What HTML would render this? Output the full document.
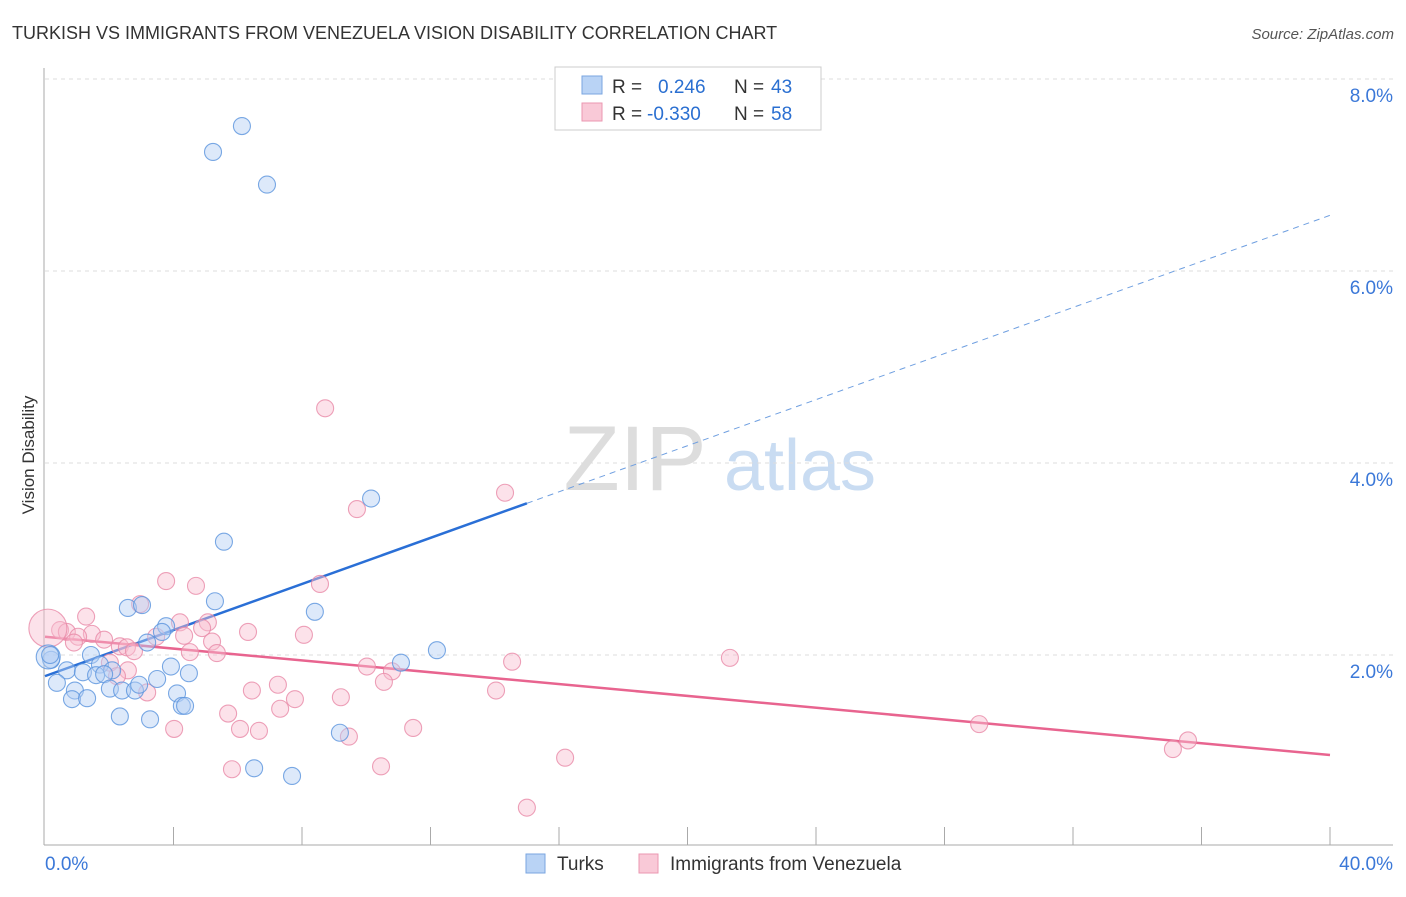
<!DOCTYPE html>
<html><head><meta charset="utf-8"><style>
body{margin:0;background:#fff;font-family:"Liberation Sans",sans-serif;}
svg text{font-family:"Liberation Sans",sans-serif;}
</style></head><body>
<svg id="chart" width="1406" height="892">
<text x="12" y="39" font-size="18" fill="#333">TURKISH VS IMMIGRANTS FROM VENEZUELA VISION DISABILITY CORRELATION CHART</text>
<text x="1394" y="39" font-size="15" fill="#555" font-style="italic" text-anchor="end">Source: ZipAtlas.com</text>
<text x="34" y="455" font-size="17" fill="#333" text-anchor="middle" transform="rotate(-90 34 455)">Vision Disability</text>
<g>
<text x="635" y="490" font-size="92" fill="#ddd" text-anchor="middle" font-family="Liberation Serif,serif">ZIP</text>
<text x="800" y="490" font-size="72" fill="#c9dcf2" text-anchor="middle">atlas</text>
</g>
<g id="grid"></g><g id="axes"></g><g id="lines"></g><g id="pts"></g>
<g>
<rect x="555" y="67" width="266" height="63" fill="#fff" stroke="#ccc"/>
<rect x="582" y="76" width="20" height="18" fill="#b9d3f5" stroke="#7aa6e0"/>
<rect x="582" y="103" width="20" height="18" fill="#f9c9d7" stroke="#eb97b1"/>
<text x="612" y="93" font-size="19" fill="#333">R = </text><text x="658" y="93" font-size="19" fill="#2a6fd1">0.246</text>
<text x="734" y="93" font-size="19" fill="#333">N = </text><text x="771" y="93" font-size="19" fill="#2a6fd1">43</text>
<text x="612" y="120" font-size="19" fill="#333">R = </text><text x="647" y="120" font-size="19" fill="#2a6fd1">-0.330</text>
<text x="734" y="120" font-size="19" fill="#333">N = </text><text x="771" y="120" font-size="19" fill="#2a6fd1">58</text>
</g>
<g>
<rect x="526" y="854" width="19" height="19" fill="#b9d3f5" stroke="#7aa6e0"/>
<text x="557" y="870" font-size="19" fill="#333">Turks</text>
<rect x="639" y="854" width="19" height="19" fill="#f9c9d7" stroke="#eb97b1"/>
<text x="670" y="870" font-size="19" fill="#333">Immigrants from Venezuela</text>
</g>
</svg>
<script>
const blueX=[6.13,5.23,6.91,10.15,5.57,5.29,2.58,3.02,8.40,3.77,3.64,3.18,12.20,11.08,0.19,1.43,1.71,2.09,0.68,1.18,1.59,1.84,3.92,4.48,0.37,0.93,2.02,2.40,2.80,3.49,4.11,2.93,0.84,1.31,2.33,3.27,4.26,4.36,9.18,6.51,7.69,0.1,0.16];
const blueY=[7.51,7.24,6.90,3.63,3.18,2.56,2.49,2.52,2.45,2.30,2.24,2.13,2.05,1.92,1.95,2.00,1.90,1.84,1.84,1.82,1.79,1.80,1.88,1.81,1.71,1.63,1.65,1.63,1.63,1.75,1.60,1.69,1.54,1.55,1.36,1.33,1.47,1.47,1.19,0.82,0.74,1.98,2.0];
const pinkX=[8.72,14.32,9.71,3.77,4.70,8.56,2.96,1.28,4.20,5.07,0.47,0.68,1.46,1.03,1.84,4.33,4.89,6.32,8.06,2.33,2.55,0.90,5.20,2.77,4.51,5.35,3.46,2.02,2.58,2.24,10.02,14.54,21.32,10.80,10.55,6.44,7.25,3.18,9.21,7.78,14.04,5.70,7.32,4.02,6.07,6.66,11.46,9.46,29.08,35.58,35.11,5.82,10.46,16.19,15.00,0.09];
const pinkY=[4.57,3.69,3.52,2.77,2.72,2.74,2.53,2.40,2.34,2.34,2.26,2.24,2.22,2.19,2.16,2.20,2.28,2.24,2.21,2.09,2.08,2.13,2.14,2.04,2.03,2.02,2.19,1.92,1.84,1.78,1.88,1.93,1.97,1.83,1.72,1.63,1.69,1.61,1.56,1.54,1.63,1.39,1.44,1.23,1.23,1.21,1.24,1.15,1.28,1.11,1.02,0.81,0.84,0.93,0.41,2.28];
const yTicks=[2,4,6,8];
const yTickLabels=["2.0%","4.0%","6.0%","8.0%"];
const blueTrend=[1.78,0.12]; const pinkTrend=[2.19,-0.0308];
const NS="http://www.w3.org/2000/svg";
const sx=v=>45+v*(1285/40), sy=v=>847-v*96;
function mk(t,a,p){const e=document.createElementNS(NS,t);for(const k in a)e.setAttribute(k,a[k]);p.appendChild(e);return e;}
const grid=document.getElementById('grid'),axes=document.getElementById('axes'),lines=document.getElementById('lines'),pts=document.getElementById('pts');
yTicks.forEach((t,i)=>{
 const g=mk('line',{x1:45,x2:1393,y1:sy(t),y2:sy(t),stroke:'#ddd','stroke-dasharray':'4,4'},grid);
 
 
 const l=mk('text',{x:1393,y:sy(t)+23,'font-size':19,fill:'#3b78d8','text-anchor':'end'},grid);l.textContent=yTickLabels[i];
 
 
});
mk('line',{x1:44,x2:44,y1:68,y2:845,stroke:'#aaa'},axes);
mk('line',{x1:44,x2:1393,y1:845,y2:845,stroke:'#aaa'},axes);
for(let v=4;v<=40;v+=4){mk('line',{x1:sx(v),x2:sx(v),y1:827,y2:845,stroke:'#aaa'},axes);}
const xl0=mk('text',{x:45,y:870,'font-size':19,fill:'#3b78d8'},axes);xl0.textContent='0.0%';


const xl1=mk('text',{x:1393,y:870,'font-size':19,fill:'#3b78d8','text-anchor':'end'},axes);xl1.textContent='40.0%';


const f=(tr,x)=>tr[0]+tr[1]*x;
const b1=mk('line',{x1:sx(0),y1:sy(f(blueTrend,0)),x2:sx(15),y2:sy(f(blueTrend,15)),stroke:'#2a6fd6','stroke-width':2.5},lines);


const b2=mk('line',{x1:sx(15),y1:sy(f(blueTrend,15)),x2:sx(40),y2:sy(f(blueTrend,40)),stroke:'#6f9fe0','stroke-width':1,'stroke-dasharray':'6,5'},lines);


const p1=mk('line',{x1:sx(0),y1:sy(f(pinkTrend,0)),x2:sx(40),y2:sy(f(pinkTrend,40)),stroke:'#e8648f','stroke-width':2.5},lines);


function dots(X,Y,fill,stroke,name,bigR){X.forEach((x,i)=>{
 const r=(x<0.12)?bigR:8.5;
 const c=mk('circle',{cx:sx(x),cy:sy(Y[i]),r:r,fill:fill,'fill-opacity':0.45,stroke:stroke,'stroke-width':1.1,'stroke-opacity':0.8},pts);
 
 
});}
dots(pinkX,pinkY,'#f8bfd0','#e98aa8','venezuela-point',19);
dots(blueX,blueY,'#b3cff3','#5a93dd','turks-point',12);
</script>
</body></html>
